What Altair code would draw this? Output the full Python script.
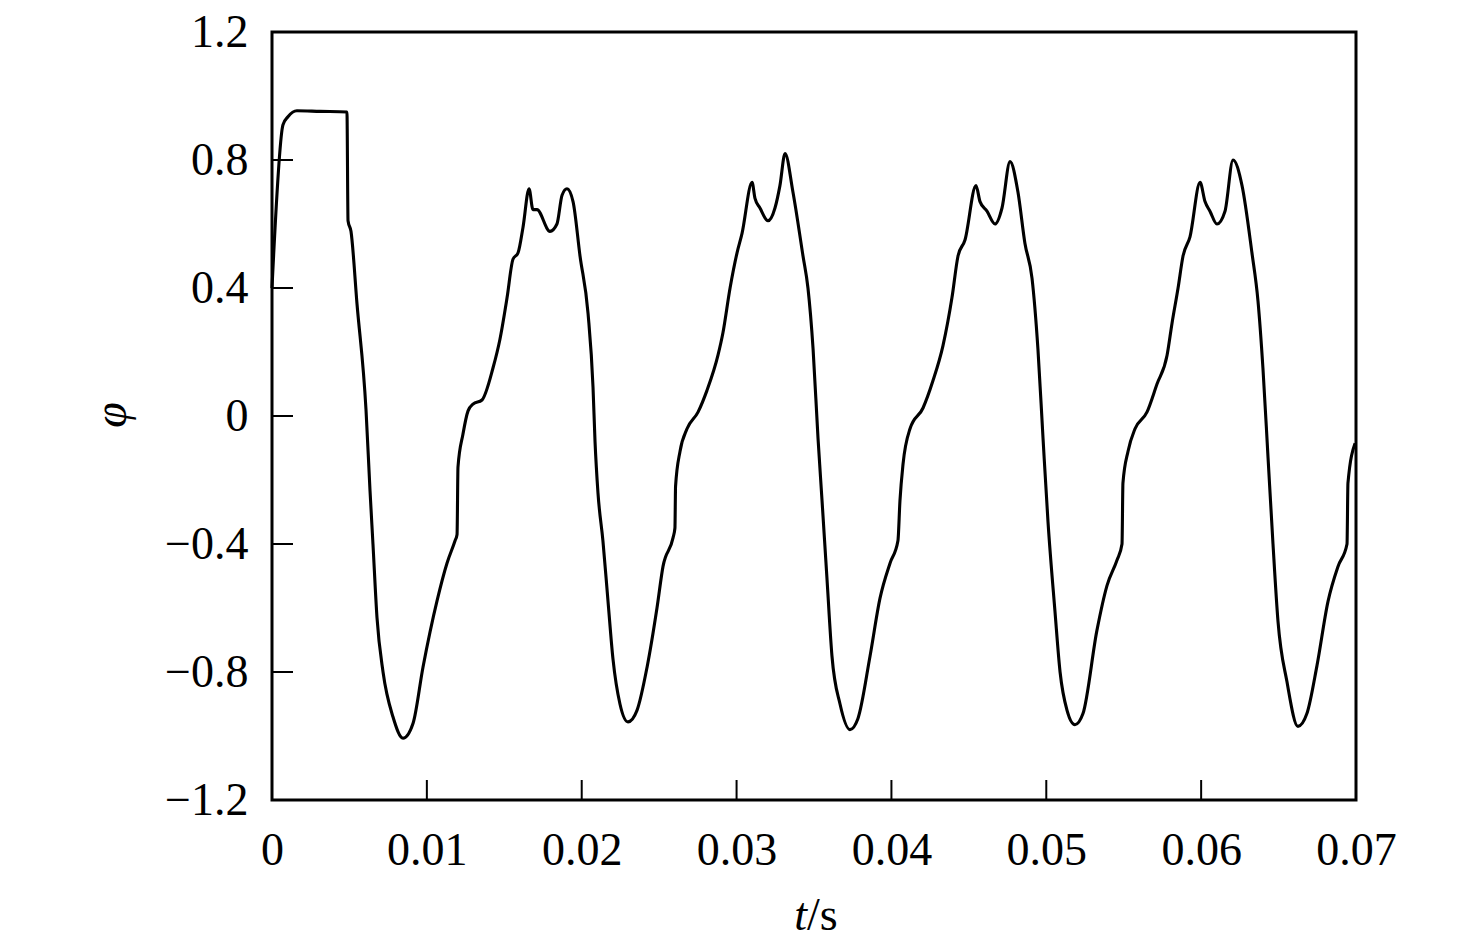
import altair as alt
import pandas as pd

# time (s) and phi values
t_vals = [
    0.0000, 0.00071, 0.00103, 0.00161, 0.00310, 0.00484, 0.00491, 0.00510, 0.00549, 0.00607,
    0.00633, 0.00652, 0.00678, 0.00717, 0.00781, 0.00846, 0.00911, 0.00975, 0.01066, 0.01130,
    0.01182, 0.01195, 0.01201, 0.01233, 0.01266, 0.01298, 0.01356, 0.01427, 0.01472, 0.01518,
    0.01556, 0.01589, 0.01621, 0.01660, 0.01685, 0.01711, 0.01795, 0.01840, 0.01873, 0.01905,
    0.01944, 0.01989, 0.02041, 0.02073, 0.02086, 0.02105, 0.02137, 0.02170, 0.02202, 0.02247,
    0.02299, 0.02357, 0.02422, 0.02486, 0.02525, 0.02590, 0.02602, 0.02606, 0.02635, 0.02680,
    0.02751, 0.02809, 0.02880, 0.02912, 0.02958, 0.03003, 0.03035, 0.03100, 0.03119, 0.03151,
    0.03203, 0.03248, 0.03280, 0.03313, 0.03364, 0.03429, 0.03461, 0.03494, 0.03526, 0.03552,
    0.03584, 0.03616, 0.03668, 0.03732, 0.03784, 0.03862, 0.03926, 0.03991, 0.04042, 0.04055,
    0.04075, 0.04120, 0.04204, 0.04268, 0.04333, 0.04391, 0.04430, 0.04475, 0.04546, 0.04572,
    0.04617, 0.04669, 0.04714, 0.04766, 0.04817, 0.04862, 0.04908, 0.04946, 0.04979, 0.05011,
    0.05056, 0.05089, 0.05134, 0.05185, 0.05237, 0.05327, 0.05392, 0.05457, 0.05489, 0.05495,
    0.05528, 0.05573, 0.05650, 0.05715, 0.05780, 0.05812, 0.05851, 0.05883, 0.05928, 0.05993,
    0.06025, 0.06057, 0.06102, 0.06154, 0.06206, 0.06264, 0.06328, 0.06367, 0.06399, 0.06432,
    0.06464, 0.06496, 0.06554, 0.06625, 0.06683, 0.06748, 0.06819, 0.06884, 0.06942, 0.06948,
    0.06994,
]
phi_vals = [
    0.40, 0.91, 0.935, 0.954, 0.952, 0.950, 0.61, 0.577, 0.35, 0.02,
    -0.234, -0.40, -0.63, -0.80, -0.94, -1.007, -0.96, -0.785, -0.577, -0.46,
    -0.39, -0.37, -0.16, -0.057, 0.016, 0.037, 0.05, 0.15, 0.24, 0.37,
    0.49, 0.51, 0.59, 0.71, 0.645, 0.645, 0.577, 0.60, 0.69, 0.71,
    0.67, 0.50, 0.32, 0.09, -0.08, -0.24, -0.39, -0.58, -0.76, -0.90,
    -0.956, -0.92, -0.785, -0.60, -0.47, -0.38, -0.35, -0.22, -0.11, -0.04,
    0.012, 0.08, 0.19, 0.26, 0.40, 0.51, 0.57, 0.73, 0.68, 0.65,
    0.61, 0.65, 0.72, 0.82, 0.70, 0.50, 0.40, 0.21, -0.07, -0.265,
    -0.51, -0.75, -0.90, -0.98, -0.945, -0.75, -0.57, -0.46, -0.39, -0.265,
    -0.15, -0.04, 0.025, 0.11, 0.22, 0.37, 0.50, 0.55, 0.72, 0.67,
    0.64, 0.60, 0.65, 0.795, 0.70, 0.54, 0.43, 0.21, -0.07, -0.33,
    -0.61, -0.80, -0.92, -0.965, -0.93, -0.67, -0.53, -0.45, -0.40, -0.21,
    -0.11, -0.04, 0.012, 0.10, 0.19, 0.29, 0.40, 0.50, 0.56, 0.73,
    0.67, 0.64, 0.60, 0.64, 0.80, 0.72, 0.51, 0.36, 0.15, -0.13,
    -0.40, -0.64, -0.83, -0.97, -0.93, -0.78, -0.58, -0.47, -0.40, -0.21,
    -0.085,
]
x_ticks = [0, 0.01, 0.02, 0.03, 0.04, 0.05, 0.06, 0.07]
y_ticks = [-1.2, -0.8, -0.4, 0, 0.4, 0.8, 1.2]
x_inner_ticks = [0.01, 0.02, 0.03, 0.04, 0.05, 0.06]
y_inner_ticks = [-0.8, -0.4, 0, 0.4, 0.8]

FONT = "Liberation Serif"
W, H = 1084, 768

df = pd.DataFrame({"t": t_vals, "phi": phi_vals})
xs = alt.Scale(domain=[0, 0.07], nice=False, zero=False)
ys = alt.Scale(domain=[-1.2, 1.2], nice=False, zero=False)

x_axis = alt.Axis(values=x_ticks, ticks=False, grid=False, domain=False,
                  labelFont=FONT, labelFontSize=46, labelColor="black",
                  labelPadding=28, labelFlush=False, labelOverlap=False,
                  labelExpr="datum.value == 0 ? '0' : format(datum.value, '.2f')")
y_axis = alt.Axis(values=y_ticks, ticks=False, grid=False, domain=False,
                  labelFont=FONT, labelFontSize=46, labelColor="black",
                  labelPadding=24, labelFlush=False, labelOverlap=False,
                  labelExpr="datum.value == 0 ? '0' : format(datum.value, '.1f')")

line = alt.Chart(df).mark_line(color="black", strokeWidth=3.1, interpolate="monotone").encode(
    x=alt.X("t:Q", scale=xs, title=None, axis=x_axis),
    y=alt.Y("phi:Q", scale=ys, title=None, axis=y_axis),
)

xt = alt.Chart(pd.DataFrame({"v": x_inner_ticks})).mark_rule(color="black", strokeWidth=2).encode(
    x=alt.X("v:Q", scale=xs, title=None, axis=x_axis),
    y=alt.value(H), y2=alt.value(H - 20),
)
yt = alt.Chart(pd.DataFrame({"v": y_inner_ticks})).mark_rule(color="black", strokeWidth=2).encode(
    y=alt.Y("v:Q", scale=ys, title=None, axis=y_axis),
    x=alt.value(0), x2=alt.value(21),
)

t_title = alt.Chart(pd.DataFrame({"s": ["t"]})).mark_text(
    font=FONT, fontSize=46, fontStyle="italic", align="right", baseline="alphabetic", color="black"
).encode(text="s:N", x=alt.value(535), y=alt.value(898))
s_title = alt.Chart(pd.DataFrame({"s": ["/s"]})).mark_text(
    font=FONT, fontSize=46, align="left", baseline="alphabetic", color="black"
).encode(text="s:N", x=alt.value(535), y=alt.value(898))
phi_title = alt.Chart(pd.DataFrame({"s": ["φ"]})).mark_text(
    font=FONT, fontSize=46, fontStyle="italic", align="center", baseline="middle",
    angle=270, color="black"
).encode(text="s:N", x=alt.value(-160), y=alt.value(383))

chart = alt.layer(line, xt, yt, t_title, s_title, phi_title).properties(
    width=W, height=H,
    autosize=alt.AutoSizeParams(type="none"),
    padding={"left": 264, "top": 24, "right": 100, "bottom": 140},
    background="white",
).configure_view(stroke="black", strokeWidth=3)

chart.save("out.html", embed_options={"renderer": "svg", "actions": False})
